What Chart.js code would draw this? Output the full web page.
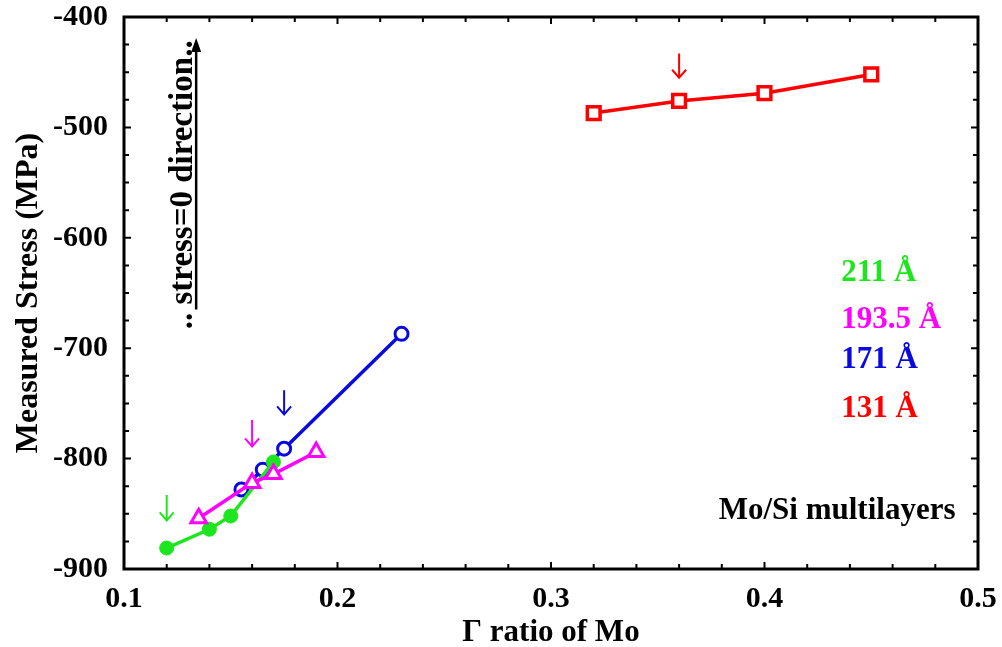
<!DOCTYPE html>
<html>
<head>
<meta charset="utf-8">
<script src="https://cdn.jsdelivr.net/npm/chart.js@4"></script>
<style>
html,body{margin:0;padding:0;background:#fff;}
#wrap{width:1002px;height:647px;}
</style>
</head>
<body>
<div id="wrap"><canvas id="c" width="1002" height="647"></canvas></div>
<script>
// ---- data ----
const gamma211 = [0.12, 0.14, 0.15, 0.17];
const stress211 = [-881, -864, -852, -803];
const gamma1935 = [0.135, 0.16, 0.17, 0.19];
const stress1935 = [-854, -822, -814, -794];
const gamma171 = [0.155, 0.165, 0.175, 0.23];
const stress171 = [-828, -810, -791, -687];
const gamma131 = [0.32, 0.36, 0.40, 0.45];
const stress131 = [-487, -476, -469, -452];

const seriesLabels = ['211 Å', '193.5 Å', '171 Å', '131 Å'];
const xTicks = [0.1, 0.2, 0.3, 0.4, 0.5];
const yTicks = [-900, -800, -700, -600, -500, -400];

// small arrows marking selected points
const markArrowX = [0.12, 0.16, 0.175, 0.36];
const markArrowTop = [-833, -765, -738, -433];
const markArrowTip = [-856, -789, -760, -455];

// legend text positions (data coordinates)
const legendX = 0.436;
const legendY = [-632, -674, -711, -755];

const C_GREEN = '#1ee61e', C_MAG = '#ff00ff', C_BLUE = '#0a0ae0', C_RED = '#ff0000';
const colours = [C_GREEN, C_MAG, C_BLUE, C_RED];
const FONT = '"Liberation Serif", "Times New Roman", serif';

function pts(xs, ys) { return xs.map((x, i) => ({x: x, y: ys[i]})); }

const annot = {
  id: 'annot',
  afterDraw(chart) {
    const ctx = chart.ctx, xs = chart.scales.x, ys = chart.scales.y, a = chart.chartArea;
    ctx.save();
    ctx.strokeStyle = '#000';
    ctx.lineWidth = 2;
    ctx.beginPath();
    for (let k = 0; k <= 20; k++) {
      const v = 0.1 + k * 0.02;
      const px = xs.getPixelForValue(v);
      const len = (k % 5 === 0) ? 7 : 5;
      ctx.moveTo(px, a.bottom); ctx.lineTo(px, a.bottom - len);
      ctx.moveTo(px, a.top); ctx.lineTo(px, a.top + len);
    }
    for (let k = 0; k <= 20; k++) {
      const v = -900 + k * 25;
      const py = ys.getPixelForValue(v);
      const len = (k % 4 === 0) ? 7 : 5;
      ctx.moveTo(a.left, py); ctx.lineTo(a.left + len, py);
      ctx.moveTo(a.right, py); ctx.lineTo(a.right - len, py);
    }
    ctx.stroke();
    ctx.lineWidth = 3;
    ctx.strokeRect(a.left, a.top, a.right - a.left, a.bottom - a.top);

    ctx.lineWidth = 2;
    markArrowX.forEach((x, i) => {
      const px = xs.getPixelForValue(x);
      const y0 = ys.getPixelForValue(markArrowTop[i]);
      const y1 = ys.getPixelForValue(markArrowTip[i]);
      ctx.strokeStyle = colours[i];
      ctx.beginPath();
      ctx.moveTo(px, y0); ctx.lineTo(px, y1);
      ctx.moveTo(px - 7, y1 - 8); ctx.lineTo(px, y1); ctx.lineTo(px + 7, y1 - 8);
      ctx.stroke();
    });

    const bx = xs.getPixelForValue(0.1338);
    const bBot = ys.getPixelForValue(-665);
    const bTip = ys.getPixelForValue(-419);
    ctx.strokeStyle = '#000'; ctx.fillStyle = '#000';
    ctx.lineWidth = 2.5;
    ctx.beginPath(); ctx.moveTo(bx, bBot); ctx.lineTo(bx, bTip + 10); ctx.stroke();
    ctx.beginPath(); ctx.moveTo(bx, bTip); ctx.lineTo(bx - 5, bTip + 14); ctx.lineTo(bx + 5, bTip + 14); ctx.closePath(); ctx.fill();

    ctx.save();
    ctx.translate(xs.getPixelForValue(0.1277), ys.getPixelForValue(-552));
    ctx.rotate(-Math.PI / 2);
    ctx.font = 'bold 33px ' + FONT;
    ctx.textAlign = 'center'; ctx.textBaseline = 'middle';
    ctx.fillText('.. stress=0 direction..', 0, 0);
    ctx.restore();

    ctx.font = 'bold 31px ' + FONT;
    ctx.textAlign = 'left'; ctx.textBaseline = 'middle';
    const lx = xs.getPixelForValue(legendX);
    seriesLabels.forEach((t, i) => {
      ctx.fillStyle = colours[i];
      ctx.fillText(t, lx, ys.getPixelForValue(legendY[i]));
    });

    ctx.font = 'bold 31px ' + FONT;
    ctx.fillStyle = '#000';
    ctx.textAlign = 'center';
    ctx.fillText('Mo/Si multilayers', xs.getPixelForValue(0.434), ys.getPixelForValue(-847));
    ctx.restore();
  }
};

new Chart(document.getElementById('c'), {
  type: 'scatter',
  data: {
    datasets: [
      {label: seriesLabels[1], data: pts(gamma1935, stress1935), showLine: true,
       borderColor: C_MAG, backgroundColor: '#fff', borderWidth: 3.5,
       pointStyle: 'triangle', pointRadius: 9, pointBorderWidth: 3, pointBorderColor: C_MAG, pointBackgroundColor: '#fff'},
      {label: seriesLabels[0], data: pts(gamma211, stress211), showLine: true,
       borderColor: C_GREEN, backgroundColor: C_GREEN, borderWidth: 3.5,
       pointStyle: 'circle', pointRadius: 7, pointBorderWidth: 1, pointBorderColor: C_GREEN, pointBackgroundColor: C_GREEN},
      {label: seriesLabels[2], data: pts(gamma171, stress171), showLine: true,
       borderColor: C_BLUE, backgroundColor: '#fff', borderWidth: 3.5,
       pointStyle: 'circle', pointRadius: 6.5, pointBorderWidth: 3, pointBorderColor: C_BLUE, pointBackgroundColor: '#fff'},
      {label: seriesLabels[3], data: pts(gamma131, stress131), showLine: true,
       borderColor: C_RED, backgroundColor: '#fff', borderWidth: 3.5,
       pointStyle: 'rect', pointRadius: 9, pointBorderWidth: 3.5, pointBorderColor: C_RED, pointBackgroundColor: '#fff'}
    ]
  },
  options: {
    responsive: false,
    animation: false,
    layout: {padding: {top: 17, right: 24, left: 0, bottom: 0}},
    plugins: {legend: {display: false}, tooltip: {enabled: false}},
    scales: {
      x: {
        type: 'linear', min: 0.1, max: 0.5,
        afterBuildTicks: (s) => { s.ticks = xTicks.map(v => ({value: v})); },
        afterFit: (s) => { s.height = 78; s.paddingLeft = 0; s.paddingRight = 0; },
        grid: {display: false, drawTicks: false},
        border: {display: false},
        ticks: {color: '#000', padding: 12, maxRotation: 0, font: {family: FONT, size: 30, weight: 'bold'},
                callback: (v) => Number(v).toFixed(1)},
        title: {display: true, text: 'Γ ratio of Mo', color: '#000', padding: {top: 0, bottom: 0},
                font: {family: FONT, size: 31, weight: 'bold', lineHeight: 0.9}}
      },
      y: {
        type: 'linear', min: -900, max: -400,
        afterBuildTicks: (s) => { s.ticks = yTicks.map(v => ({value: v})); },
        afterFit: (s) => { s.width = 124; s.paddingTop = 0; s.paddingBottom = 0; },
        grid: {display: false, drawTicks: false},
        border: {display: false},
        ticks: {color: '#000', padding: 16, font: {family: FONT, size: 30, weight: 'bold'}},
        title: {display: true, text: 'Measured Stress (MPa)', color: '#000', padding: {top: 13, bottom: 0},
                font: {family: FONT, size: 32, weight: 'bold', lineHeight: 1}}
      }
    }
  },
  plugins: [annot]
});
</script>
</body>
</html>
